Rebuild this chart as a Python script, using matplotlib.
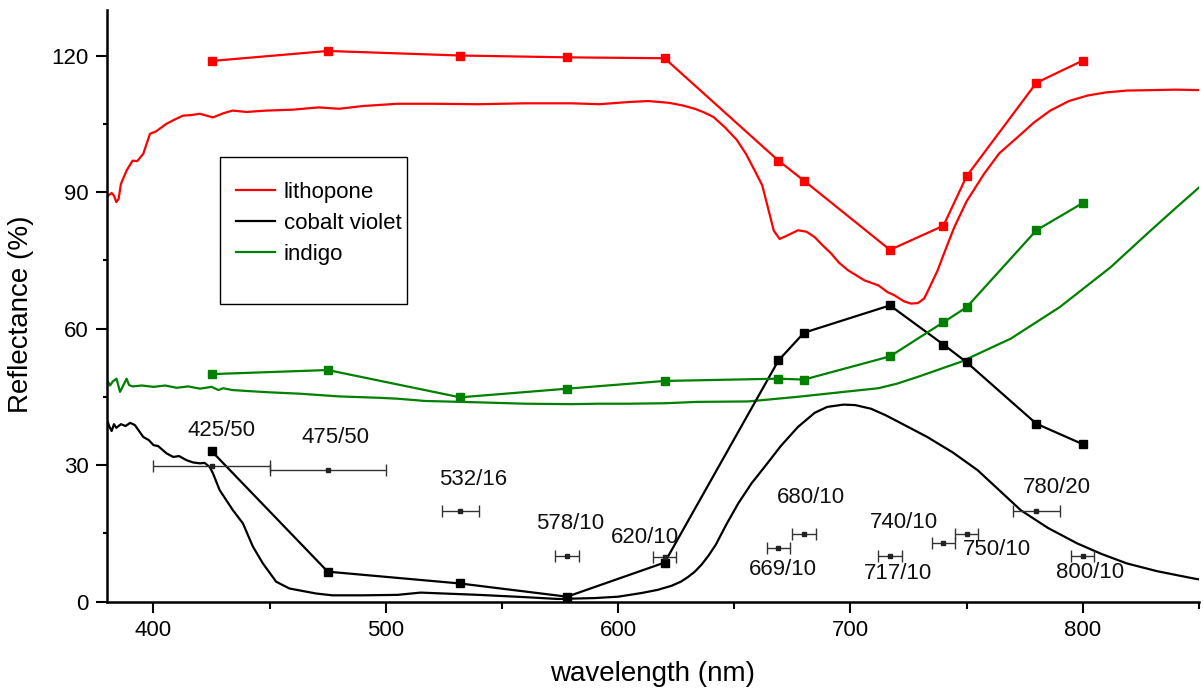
import matplotlib
matplotlib.use("Agg")
import matplotlib.pyplot as plt
from matplotlib.ticker import MultipleLocator
from matplotlib.patches import Rectangle

plt.rcParams['font.family'] = ['Liberation Sans', 'DejaVu Sans']

# ---------------- data ----------------
# lithopone reflectance spectrum
litho_wl = [380, 382, 383, 384, 385, 386, 388.4, 391, 393, 395.6, 398.5, 401, 405.6, 409, 412.8,
            416, 420, 425.6, 430, 434, 440, 448.5, 460, 471, 480, 490, 505, 520, 540, 560, 580,
            592, 605, 613, 622, 628, 633, 637, 641, 646, 651, 655, 659, 662, 665, 667, 669.5, 673, 677.4,
            681, 684.6, 688, 691.7, 695, 699, 706, 712, 716, 719, 723, 726, 729, 731.7, 734,
            737.5, 741, 744.7, 750, 757.5, 764, 771.8, 779, 786, 794, 802, 810, 819, 830, 840, 850]
litho_R = [89.0, 89.8, 89.2, 87.8, 88.5, 91.8, 94.7, 96.9, 96.8, 98.4, 102.8, 103.3, 105.0, 105.9, 106.8,
           106.9, 107.2, 106.4, 107.3, 107.9, 107.6, 107.9, 108.1, 108.6, 108.3, 108.9, 109.4, 109.4, 109.3, 109.5, 109.5,
           109.3, 109.8, 110.0, 109.6, 109.0, 108.3, 107.5, 106.5, 104.2, 101.5, 98.4, 94.5, 91.5, 85.5, 81.5, 79.7, 80.5, 81.6,
           81.3, 80.1, 78.3, 76.5, 74.5, 72.8, 70.6, 69.5, 68.0, 67.3, 66.0, 65.5, 65.6, 66.6, 69.0,
           72.8, 77.5, 82.3, 88.0, 94.0, 98.5, 102.0, 105.3, 107.9, 110.0, 111.2, 111.9, 112.3, 112.4, 112.5, 112.4]

# cobalt violet reflectance spectrum
cobalt_wl = [380, 381, 382, 383, 384, 386, 388, 390, 392, 395.6, 398, 400, 402, 405.6, 408.5, 411, 414.2,
             417, 420, 422, 424.2, 425.6, 428.5, 434.2, 438.5, 442.8, 447.1, 452.8, 458.5, 470, 477, 490,
             505, 515, 525, 540, 560, 574, 590, 600, 610, 617, 623, 627, 630, 633, 636, 639, 642, 646.6, 651.7,
             657.4, 663, 670, 677.4, 684.6, 690, 697, 702, 708.8, 715, 720.3, 733, 744, 754.7, 764, 773.3,
             785, 797.6, 808, 819, 832, 847.7, 850]
cobalt_R = [39.9, 38.5, 37.5, 39.0, 38.2, 39.0, 38.6, 39.3, 38.8, 36.2, 35.5, 34.4, 34.2, 32.6, 31.8, 32.0, 31.1,
            30.6, 30.4, 30.5, 29.6, 28.2, 24.5, 20.1, 17.2, 12.1, 8.4, 4.4, 2.9, 1.8, 1.4, 1.4,
            1.5, 2.0, 1.8, 1.5, 1.0, 0.6, 0.8, 1.1, 1.9, 2.6, 3.5, 4.4, 5.4, 6.6, 8.2, 10.2, 12.5, 17.0, 21.6,
            26.0, 29.6, 34.2, 38.4, 41.5, 42.8, 43.3, 43.2, 42.4, 41.0, 39.6, 36.2, 32.8, 28.9, 24.5, 20.1,
            16.2, 12.8, 10.5, 8.4, 6.7, 5.1, 4.9]

# indigo reflectance spectrum
indigo_wl = [380, 381.3, 382.5, 384.1, 385.6, 387, 388.4, 389.5, 391, 395, 400, 405, 410, 415, 420, 425,
             428, 430, 434, 440, 450, 463, 480, 497, 505, 517, 540, 560, 580, 592, 605, 620, 634,
             656, 677, 699, 712, 720, 729, 747.5, 769, 790, 812, 828, 840, 850]
indigo_R = [48.7, 47.5, 48.4, 49.0, 46.1, 47.5, 49.0, 47.6, 47.3, 47.5, 47.2, 47.5, 47.0, 47.3, 46.8, 47.2,
            46.5, 46.9, 46.5, 46.3, 46.0, 45.7, 45.1, 44.8, 44.6, 44.1, 43.8, 43.5, 43.4, 43.5, 43.5, 43.6, 43.9,
            44.0, 45.0, 46.2, 46.9, 47.9, 49.4, 52.7, 57.8, 64.7, 73.5, 81.0, 86.5, 91.0]

# filter-band values
filter_wl = [425, 475, 532, 578, 620, 669, 680, 717, 740, 750, 780, 800]
litho_filter = [118.8, 121.0, 120.0, 119.6, 119.4, 96.9, 92.5, 77.3, 82.6, 93.5, 114.0, 118.9]
cobalt_filter = [33.1, 6.6, 4.0, 1.1, 8.6, 53.0, 59.1, 65.1, 56.5, 52.6, 39.1, 34.6]
indigo_filter = [50.0, 50.9, 44.9, 46.8, 48.5, 49.0, 48.8, 53.9, 61.4, 64.7, 81.6, 87.6]

# filter bandwidths (nm) and their marker heights
filter_bw = [50, 50, 16, 10, 10, 10, 10, 10, 10, 10, 20, 10]
filter_level = [29.8, 28.9, 19.9, 10.0, 9.9, 11.7, 14.8, 10.0, 12.9, 14.9, 20.0, 10.0]
filter_names = ["425/50", "475/50", "532/16", "578/10", "620/10", "669/10",
                "680/10", "717/10", "740/10", "750/10", "780/20", "800/10"]

series_names = ["lithopone", "cobalt violet", "indigo"]

# ---------------- figure ----------------
RED = "#ff0000"
GREEN = "#008000"
BLACK = "#000000"

W, H = 1203, 689
fig = plt.figure(figsize=(W / 100, H / 100), dpi=100)
ax = fig.add_axes([107 / W, (H - 601.7) / H, (1199 - 107) / W, (601.7 - 10) / H])

ax.plot(litho_wl, litho_R, color=RED, lw=1.6, label=series_names[0])
ax.plot(cobalt_wl, cobalt_R, color=BLACK, lw=1.6, label=series_names[1])
ax.plot(indigo_wl, indigo_R, color=GREEN, lw=1.6, label=series_names[2])

ax.plot(filter_wl, litho_filter, color=RED, lw=1.6, marker='s', ms=5.5)
ax.plot(filter_wl, cobalt_filter, color=BLACK, lw=1.6, marker='s', ms=5.5)
ax.plot(filter_wl, indigo_filter, color=GREEN, lw=1.6, marker='s', ms=5.5)

half_bw = [b / 2 for b in filter_bw]
ax.errorbar(filter_wl, filter_level, xerr=half_bw, fmt='s', ms=3, color='#222222',
            ecolor='#333333', elinewidth=1.0, capsize=4, capthick=1.0, zorder=5)

# filter annotations (label centres in data coordinates)
label_xy = [(429.4, 37.7), (478.5, 36.1), (537.6, 26.9), (579.4, 17.2), (611.6, 14.2),
            (671.0, 7.1), (683.1, 22.9), (720.3, 6.1), (723.2, 17.4), (763.2, 11.5),
            (788.7, 25.1), (803.3, 6.5)]
for name, (lx, ly) in zip(filter_names, label_xy):
    ax.text(lx, ly, name, ha='center', va='center', fontsize=16, color='#111111', zorder=6)

ax.set_xlim(380, 850)
ax.set_ylim(0, 130)
ax.xaxis.set_major_locator(MultipleLocator(100))
ax.xaxis.set_minor_locator(MultipleLocator(50))
ax.yaxis.set_major_locator(MultipleLocator(30))
ax.yaxis.set_minor_locator(MultipleLocator(15))

for s in ['top', 'right']:
    ax.spines[s].set_visible(False)
for s in ['left', 'bottom']:
    ax.spines[s].set_linewidth(1.8)

ax.tick_params(axis='both', which='major', direction='out', length=8, width=1.5,
               labelsize=16, pad=5)
ax.tick_params(axis='x', which='minor', direction='out', length=5, width=1.5)
ax.tick_params(axis='y', which='minor', direction='out', length=3, width=1.5)

ax.set_xlabel("wavelength (nm)", fontsize=20)
ax.set_ylabel("Reflectance (%)", fontsize=20)
ax.xaxis.set_label_coords(0.5, -0.1)
ax.yaxis.set_label_coords(-0.067, 0.485)

# legend: entries without frame, plus a plain rectangular box
leg = ax.legend(loc='upper left', bbox_to_anchor=(236 / W, 1 - 182 / H),
                bbox_transform=fig.transFigure, borderaxespad=0, borderpad=0, fontsize=16,
                frameon=False, handlelength=1.75, handletextpad=0.4, labelspacing=0.45)
fig.patches.append(Rectangle((220 / W, 1 - 304 / H), (407 - 220) / W, (304 - 157) / H,
                             transform=fig.transFigure, fill=False, edgecolor='black',
                             linewidth=1.0, zorder=10))

fig.savefig("out.png", dpi=100)
